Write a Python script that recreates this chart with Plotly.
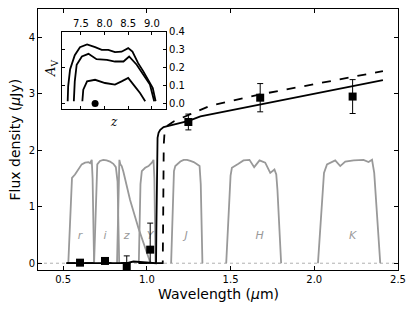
import plotly.graph_objects as go

# ---- filter transmission curves (scaled) ----
r_wl = [0.531, 0.545, 0.553, 0.571, 0.591, 0.611, 0.631, 0.651, 0.661, 0.671, 0.676, 0.685]
r_tr = [0.0, 1.0, 1.51, 1.57, 1.66, 1.75, 1.78, 1.79, 1.77, 1.83, 1.5, 0.0]
i_wl = [0.685, 0.697, 0.704, 0.72, 0.74, 0.76, 0.78, 0.80, 0.815, 0.825, 0.835]
i_tr = [0.0, 1.4, 1.75, 1.81, 1.83, 1.82, 1.80, 1.76, 1.70, 1.45, 0.0]
z_wl = [0.822, 0.830, 0.836, 0.842, 0.85, 0.86, 0.88, 0.90, 0.95, 1.0, 1.022]
z_tr = [0.0, 1.5, 1.83, 1.75, 1.72, 1.62, 1.38, 1.12, 0.62, 0.17, 0.0]
Y_wl = [0.952, 0.962, 0.97, 0.99, 1.01, 1.03, 1.04, 1.045, 1.052]
Y_tr = [0.0, 1.4, 1.63, 1.69, 1.72, 1.78, 1.83, 1.5, 0.0]
J_wl = [1.145, 1.155, 1.162, 1.17, 1.185, 1.20, 1.22, 1.24, 1.26, 1.28, 1.30, 1.315, 1.322, 1.332]
J_tr = [0.0, 1.3, 1.63, 1.72, 1.76, 1.80, 1.83, 1.83, 1.81, 1.79, 1.75, 1.72, 1.4, 0.0]
H_wl = [1.474, 1.50, 1.508, 1.528, 1.547, 1.577, 1.613, 1.641, 1.655, 1.673, 1.707, 1.737, 1.762, 1.773, 1.78, 1.802]
H_tr = [0.0, 1.55, 1.69, 1.72, 1.76, 1.82, 1.83, 1.70, 1.76, 1.82, 1.78, 1.60, 1.66, 1.57, 1.3, 0.0]
K_wl = [2.022, 2.058, 2.076, 2.105, 2.125, 2.155, 2.185, 2.235, 2.294, 2.324, 2.345, 2.358, 2.372, 2.394]
K_tr = [0.0, 1.6, 1.75, 1.79, 1.82, 1.72, 1.80, 1.82, 1.83, 1.79, 1.83, 1.6, 1.0, 0.0]

filter_names = ["r", "i", "z", "Y", "J", "H", "K"]
filter_label_wl = [0.601, 0.75, 0.88, 1.02, 1.235, 1.673, 2.229]
filter_label_y = [0.47, 0.47, 0.47, 0.47, 0.47, 0.47, 0.47]

# ---- photometry ----
phot_wl = [0.601, 0.75, 0.88, 1.02, 1.248, 1.677, 2.229]
phot_flux = [0.01, 0.04, -0.05, 0.24, 2.50, 2.93, 2.95]
err_plus = [0.0, 0.0, 0.18, 0.47, 0.14, 0.25, 0.30]
err_minus = [0.0, 0.0, 0.06, 0.24, 0.14, 0.25, 0.30]

# ---- models ----
solid_wl = [0.52, 0.88, 0.92, 0.96, 1.0, 1.055, 1.057, 1.059, 1.061, 1.064, 1.07, 1.08, 1.10, 1.15, 1.25, 1.32, 1.68, 2.0, 2.41]
solid_f = [0.0, 0.0, 0.03, 0.02, 0.01, 0.0, 0.6, 1.6, 2.05, 2.22, 2.31, 2.36, 2.41, 2.45, 2.52, 2.60, 2.81, 3.0, 3.24]
dash_wl = [0.52, 1.095, 1.097, 1.099, 1.101, 1.105, 1.112, 1.12, 1.16, 1.25, 1.32, 1.38, 1.68, 2.0, 2.41]
dash_f = [0.0, 0.0, 0.6, 1.6, 2.1, 2.28, 2.37, 2.43, 2.51, 2.63, 2.72, 2.79, 2.99, 3.17, 3.40]

# ---- inset contours (z, A_V) ----
c1_z = [7.22, 7.23, 7.27, 7.37, 7.48, 7.63, 7.80, 7.94, 8.08, 8.22, 8.36, 8.50, 8.59, 8.71, 8.82, 8.93, 9.02, 9.08]
c1_a = [0.013, 0.096, 0.19, 0.27, 0.315, 0.33, 0.315, 0.30, 0.30, 0.287, 0.29, 0.31, 0.29, 0.226, 0.18, 0.133, 0.087, 0.013]
c2_z = [7.35, 7.37, 7.41, 7.52, 7.66, 7.83, 8.05, 8.22, 8.40, 8.52, 8.68, 8.82, 8.96, 9.05]
c2_a = [0.013, 0.124, 0.217, 0.263, 0.278, 0.248, 0.244, 0.235, 0.235, 0.263, 0.217, 0.161, 0.106, 0.013]
c3_z = [7.53, 7.55, 7.63, 7.80, 8.01, 8.22, 8.36, 8.50, 8.64, 8.75, 8.86]
c3_a = [0.013, 0.078, 0.124, 0.133, 0.115, 0.106, 0.124, 0.143, 0.096, 0.059, 0.013]
best_z = [7.8]
best_a = [0.0]

x_ticks = [0.5, 1.0, 1.5, 2.0, 2.5]
y_ticks = [0, 1, 2, 3, 4]
inset_x_ticks = [7.5, 8.0, 8.5, 9.0]
inset_y_ticks = [0.0, 0.1, 0.2, 0.3, 0.4]

GRAY = "#999999"
FONT = "DejaVu Sans"

fig = go.Figure()

fig.add_trace(go.Scatter(x=[0.35, 2.5], y=[0, 0], mode="lines",
                         line=dict(color="#b0b0b0", width=1, dash="dot"), showlegend=False))

for wl, tr in [(r_wl, r_tr), (i_wl, i_tr), (z_wl, z_tr), (Y_wl, Y_tr),
               (J_wl, J_tr), (H_wl, H_tr), (K_wl, K_tr)]:
    fig.add_trace(go.Scatter(x=wl, y=tr, mode="lines",
                             line=dict(color=GRAY, width=1.8), showlegend=False))

fig.add_trace(go.Scatter(x=filter_label_wl, y=filter_label_y, mode="text",
                         text=["<i>%s</i>" % n for n in filter_names],
                         textfont=dict(family=FONT, size=11, color=GRAY), showlegend=False))

fig.add_trace(go.Scatter(x=dash_wl, y=dash_f, mode="lines",
                         line=dict(color="black", width=1.8, dash="dash"), showlegend=False))
fig.add_trace(go.Scatter(x=solid_wl, y=solid_f, mode="lines",
                         line=dict(color="black", width=1.8), showlegend=False))

fig.add_trace(go.Scatter(x=phot_wl, y=phot_flux, mode="markers",
                         marker=dict(symbol="square", size=8, color="black"),
                         error_y=dict(type="data", array=err_plus, arrayminus=err_minus,
                                      color="black", thickness=1, width=3),
                         showlegend=False))

# inset
for cz, ca in [(c1_z, c1_a), (c2_z, c2_a), (c3_z, c3_a)]:
    fig.add_trace(go.Scatter(x=cz, y=ca, mode="lines", xaxis="x2", yaxis="y2",
                             line=dict(color="black", width=1.8), showlegend=False))
fig.add_trace(go.Scatter(x=best_z, y=best_a, mode="markers", xaxis="x2", yaxis="y2",
                         marker=dict(symbol="circle", size=7, color="black"),
                         cliponaxis=False, showlegend=False))

axis_common = dict(showline=True, linecolor="black", linewidth=1, mirror="allticks",
                   ticks="inside", ticklen=4, tickcolor="black", tickwidth=1,
                   showgrid=False, zeroline=False, automargin=False,
                   tickfont=dict(family=FONT, size=10, color="black"))

fig.update_layout(
    width=415, height=312,
    margin=dict(l=38, r=17, t=9, b=42, autoexpand=False),
    paper_bgcolor="white", plot_bgcolor="white",
    font=dict(family=FONT, color="black"),
    xaxis=dict(range=[0.35, 2.5], tickvals=x_ticks,
               ticktext=["%.1f" % v for v in x_ticks], **axis_common),
    yaxis=dict(range=[-0.12, 4.5], tickvals=y_ticks,
               ticktext=[str(v) for v in y_ticks], **axis_common),
    xaxis2=dict(domain=[0.0667, 0.3556], anchor="y2", side="top", range=[7.1, 9.3],
                tickvals=inset_x_ticks, ticktext=["%.1f" % v for v in inset_x_ticks],
                **{**axis_common, "ticklen": 3}),
    yaxis2=dict(domain=[0.617, 0.912], anchor="x2", side="right", range=[-0.03, 0.4],
                tickvals=inset_y_ticks, ticktext=["%.1f" % v for v in inset_y_ticks],
                **{**axis_common, "ticklen": 3}),
    annotations=[
        dict(text="Wavelength (<i>μ</i>m)", xref="paper", yref="paper", x=0.5, y=-0.092,
             showarrow=False, xanchor="center", yanchor="middle",
             font=dict(family=FONT, size=14, color="black")),
        dict(text="Flux density (<i>μ</i>Jy)", xref="paper", yref="paper", x=-0.064, y=0.5,
             showarrow=False, textangle=-90, xanchor="center", yanchor="middle",
             font=dict(family=FONT, size=14, color="black")),
        dict(text="<i>z</i>", xref="paper", yref="paper", x=0.211, y=0.568,
             showarrow=False, xanchor="center", yanchor="middle",
             font=dict(family="DejaVu Serif", size=12, color="black")),
        dict(text="<i>A</i><sub>V</sub>", xref="paper", yref="paper", x=0.038, y=0.773,
             showarrow=False, textangle=-90, xanchor="center", yanchor="middle",
             font=dict(family="DejaVu Serif", size=13, color="black")),
    ],
)

fig.write_html("out.html", config={"displayModeBar": False},
               post_script="document.body.style.margin='0px';document.body.style.overflow='hidden';")
